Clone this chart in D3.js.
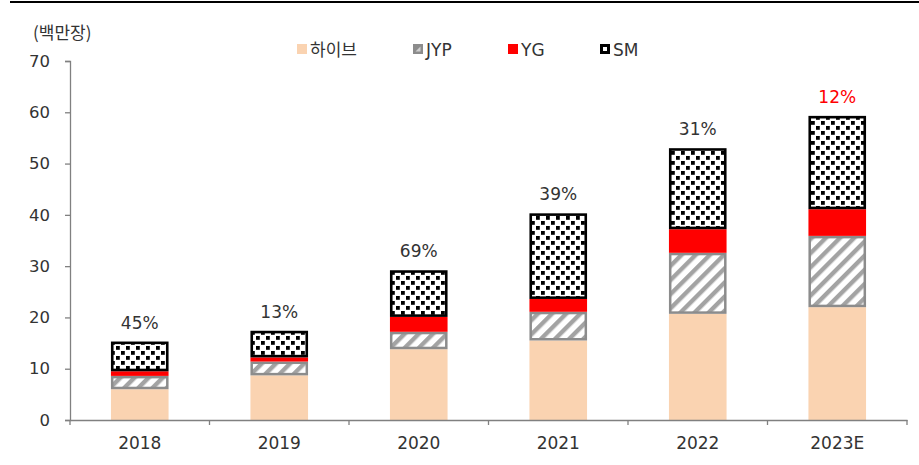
<!DOCTYPE html>
<html><head><meta charset="utf-8">
<script src="https://cdn.jsdelivr.net/npm/d3@7"></script>
<style>body{margin:0;background:#fff}svg{display:block}</style>
</head><body>
<svg id="c" width="919" height="465"></svg>
<script>
const categories = ["2018","2019","2020","2021","2022","2023E"];
const hybe = [6.0, 8.7, 13.8, 15.5, 20.7, 22.0];
const jyp  = [2.6, 2.7, 3.4, 5.6, 11.9, 13.9];
const yg   = [0.9, 0.8, 2.9, 2.5, 4.6, 5.2];
const sm   = [5.8, 5.2, 9.1, 16.7, 15.8, 18.2];
const growthLabels = ["45%","13%","69%","39%","31%","12%"];
const seriesNames = ["하이브","JYP","YG","SM"];
const yTicks = [0,10,20,30,40,50,60,70];

const svg = d3.select("#c");
const font = "'DejaVu Sans','Noto Sans CJK KR',sans-serif";
const kfont = "'Noto Sans CJK KR','DejaVu Sans',sans-serif";
const defs = svg.append("defs");
// JYP stripes
const ps = defs.append("pattern").attr("id","stripe").attr("patternUnits","userSpaceOnUse")
  .attr("width",10).attr("height",10).attr("patternTransform","rotate(45)");
ps.append("rect").attr("width",10).attr("height",10).attr("fill","#fff");
ps.append("rect").attr("x",0).attr("y",0).attr("width",4.4).attr("height",10).attr("fill","#a3a3a3");
// SM dots
const pd = defs.append("pattern").attr("id","dots").attr("patternUnits","userSpaceOnUse")
  .attr("width",10).attr("height",10);
pd.append("rect").attr("width",10).attr("height",10).attr("fill","#fff");
pd.append("rect").attr("x",1).attr("y",1).attr("width",3.8).attr("height",3.8).attr("fill","#000");
pd.append("rect").attr("x",6).attr("y",6).attr("width",3.8).attr("height",3.8).attr("fill","#000");

const fills = ["#fad3b1","url(#stripe)","#ff0000","url(#dots)"];
const strokes = ["none","#8c8c8c","none","#000"];
const strokeW = [0,2.5,0,2.6];

const x = d3.scaleBand().domain(categories).range([70,907]).paddingInner(0.587).paddingOuter(0.2935);
const y = d3.scaleLinear().domain([0,70]).range([420,61]);

// top rule
svg.append("line").attr("x1",10).attr("x2",919).attr("y1",2).attr("y2",2).attr("stroke","#000").attr("stroke-width",2);

// unit
svg.append("text").attr("x",33).attr("y",39).text("(백만장)")
  .attr("font-family",kfont).attr("font-size",17).attr("fill","#333");

// stacks
const rows = categories.map((c,i)=>({cat:c,"하이브":hybe[i],"JYP":jyp[i],"YG":yg[i],"SM":sm[i]}));
const stacked = d3.stack().keys(seriesNames)(rows);
stacked.forEach((s,si)=>{
  svg.append("g").selectAll("rect").data(s).join("rect")
    .attr("x",d=>x(d.data.cat)+(strokeW[si]/2))
    .attr("width",x.bandwidth()-strokeW[si])
    .attr("y",d=>y(d[1])+(strokeW[si]/2))
    .attr("height",d=>Math.max(0,y(d[0])-y(d[1])-strokeW[si]))
    .attr("fill",fills[si]).attr("stroke",strokes[si]).attr("stroke-width",strokeW[si]);
});

// growth labels
const totals = stacked[3];
svg.append("g").selectAll("text").data(totals).join("text")
  .attr("x",d=>x(d.data.cat)+x.bandwidth()/2)
  .attr("y",d=>y(d[1])-13)
  .attr("text-anchor","middle").attr("font-family",font).attr("font-size",17)
  .attr("fill",(d,i)=>i===categories.length-1?"#ff0000":"#333")
  .text((d,i)=>growthLabels[i]);

// y axis
const ya = d3.axisLeft(y).tickValues(yTicks).tickSize(5).tickPadding(15);
const gy = svg.append("g").attr("transform","translate(70,0)").call(ya);
gy.select(".domain").attr("stroke","#808080").attr("stroke-width",1.3);
gy.selectAll(".tick line").attr("stroke","#808080").attr("stroke-width",1.3);
gy.selectAll("text").attr("font-family",font).attr("font-size",16.5).attr("fill","#333");

// x axis
const xa = d3.axisBottom(x).tickSize(0).tickPadding(17);
const gx = svg.append("g").attr("transform","translate(0,420)").call(xa);
gx.select(".domain").attr("stroke","#808080").attr("stroke-width",1.3);
gx.selectAll("text").attr("font-family",font).attr("font-size",17).attr("fill","#333");
const bounds = d3.range(categories.length+1).map(i=>70+i*x.step());
gx.selectAll(".sep").data(bounds).join("line").attr("class","sep")
  .attr("x1",d=>d).attr("x2",d=>d).attr("y1",0).attr("y2",5)
  .attr("stroke","#808080").attr("stroke-width",1.3);

// legend
const legX = [297,413,508,600];
const lg = svg.append("g");
seriesNames.forEach((n,i)=>{
  lg.append("rect").attr("x",legX[i]).attr("y",44).attr("width",10).attr("height",10)
    .attr("fill",i===1?"#8c8c8c":i===3?"#000":fills[i]);
  if(i===1){lg.append("path").attr("d",`M${legX[i]+2.5},${51.5}L${legX[i]+7.5},${46.5}L${legX[i]+7.5},${51.5}Z`).attr("fill","#cfcfcf");}
  if(i===3){lg.append("rect").attr("x",legX[i]+3).attr("y",47).attr("width",4).attr("height",4).attr("fill","#fff");}
  lg.append("text").attr("x",legX[i]+13).attr("y",55.5).text(n)
    .attr("font-family",i===0?kfont:font).attr("font-size",17).attr("fill","#333");
});
</script>
</body></html>
